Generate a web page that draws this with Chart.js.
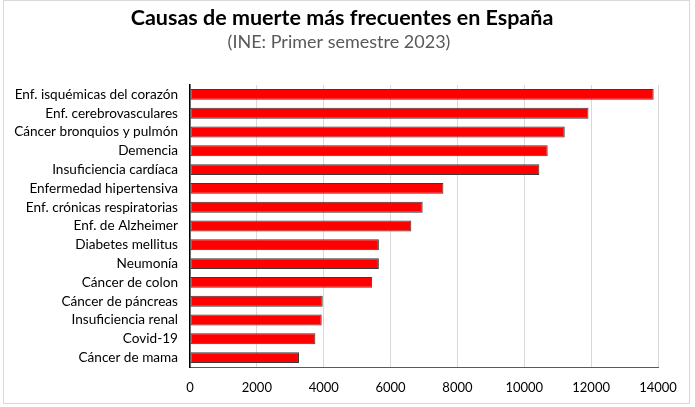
<!DOCTYPE html>
<html>
<head>
<meta charset="utf-8">
<script src="https://cdn.jsdelivr.net/npm/chart.js@4"></script>
<style>
  html, body { margin: 0; padding: 0; background: #fff; }
  #wrap { width: 695px; height: 407px; }
</style>
</head>
<body>
<div id="wrap"><canvas id="chart" width="695" height="407"></canvas></div>
<script>
// Data (INE, primer semestre 2023)
const causes = [
  'Enf. isquémicas del corazón',
  'Enf. cerebrovasculares',
  'Cáncer bronquios y pulmón',
  'Demencia',
  'Insuficiencia cardíaca',
  'Enfermedad hipertensiva',
  'Enf. crónicas respiratorias',
  'Enf. de Alzheimer',
  'Diabetes mellitus',
  'Neumonía',
  'Cáncer de colon',
  'Cáncer de páncreas',
  'Insuficiencia renal',
  'Covid-19',
  'Cáncer de mama'
];
const deaths = [13870, 11920, 11210, 10700, 10450, 7580, 6960, 6620, 5650, 5650, 5450, 3970, 3940, 3750, 3260];
const xTicks = [0, 2000, 4000, 6000, 8000, 10000, 12000, 14000];
const titleText = 'Causas de muerte más frecuentes en España';
const subtitleText = '(INE: Primer semestre 2023)';

const FONT = 'Lato, "Open Sans", sans-serif';

// frame around the chart + titles
const framePlugin = {
  id: 'frame',
  beforeDraw(chart) {
    const ctx = chart.ctx;
    ctx.save();
    ctx.fillStyle = '#fff';
    ctx.fillRect(0, 0, chart.width, chart.height);
    ctx.strokeStyle = '#d9d9d9';
    ctx.lineWidth = 1;
    ctx.strokeRect(3.5, 0.5, 686, 403);
    ctx.restore();
  },
  afterDraw(chart) {
    const ctx = chart.ctx;
    ctx.save();
    ctx.textAlign = 'center';
    ctx.textBaseline = 'alphabetic';
    ctx.fillStyle = '#000';
    ctx.font = 'bold 21.5px ' + FONT;
    ctx.fillText(titleText, 342, 25);
    ctx.fillStyle = '#595959';
    ctx.font = '18px ' + FONT;
    ctx.fillText(subtitleText, 339, 48);
    ctx.restore();
  }
};

new Chart(document.getElementById('chart'), {
  type: 'bar',
  data: {
    labels: causes,
    datasets: [{
      data: deaths,
      backgroundColor: '#ff0000',
      borderColor: '#3a3a3a',
      borderWidth: 1,
      borderSkipped: false,
      barPercentage: 0.63,
      categoryPercentage: 0.92
    }]
  },
  options: {
    indexAxis: 'y',
    responsive: false,
    animation: false,
    layout: { padding: { left: 0, right: 37, top: 85, bottom: 0 } },
    plugins: {
      legend: { display: false },
      tooltip: { enabled: false },
      title: { display: false }
    },
    scales: {
      x: {
        min: 0,
        max: 14000,
        afterBuildTicks: (scale) => { scale.ticks = xTicks.map(v => ({ value: v })); },
        afterFit: (scale) => { scale.height = 40; },
        grid: { color: '#d9d9d9', lineWidth: 1, drawTicks: false },
        border: { color: '#595959', width: 1 },
        ticks: {
          color: '#000',
          padding: 13,
          font: { family: FONT, size: 13 },
          callback: (v) => String(v)
        }
      },
      y: {
        afterFit: (scale) => { scale.width = 190; },
        grid: { display: false, drawTicks: false },
        border: { color: '#000', width: 1.5 },
        ticks: { color: '#000', padding: 12, autoSkip: false, font: { family: FONT, size: 13.6 } }
      }
    }
  },
  plugins: [framePlugin]
});
</script>
</body>
</html>
